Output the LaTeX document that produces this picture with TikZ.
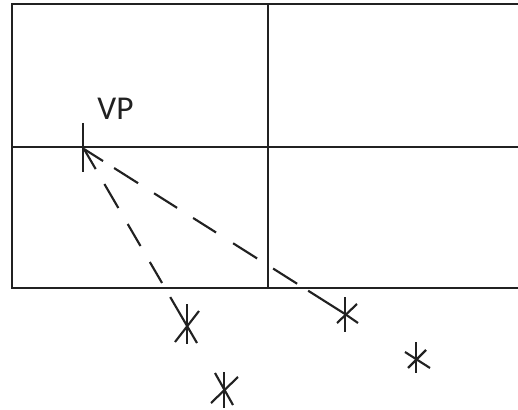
\documentclass[tikz,border=0pt]{standalone}
\usepackage{fontspec}
\setmainfont{Carlito}
\definecolor{ink}{gray}{0.13}
\tikzset{
  grid line/.style={draw=ink,line width=1.7pt},
  star line/.style={draw=ink,line width=1.6pt},
  sight c/.style={star line,dash pattern=on 16.9pt off 9.8pt on 21.3pt off 14.2pt on 20.4pt off 14.2pt on 20.4pt off 15.1pt on 21.3pt off 14.2pt on 21.3pt off 9.8pt on 60pt off 0pt},
  sight a/.style={star line,dash pattern=on 17.4pt off 13pt on 20.8pt off 13.9pt on 19.1pt off 13.9pt on 18.2pt off 12.2pt on 60pt off 0pt},
  label text/.style={inner sep=0pt,text=ink,font=\fontsize{25pt}{25pt}\selectfont}
}
\begin{document}
\begin{tikzpicture}[x=0.75pt,y=-0.75pt]
\useasboundingbox (0,0) rectangle (518,410);
\coordinate (tl) at (12,4);
\coordinate (tr) at (518,4);
\coordinate (bl) at (12,288);
\coordinate (br) at (518,288);
\coordinate (ml) at (12,147);
\coordinate (mr) at (518,147);
\coordinate (mt) at (268,4);
\coordinate (mb) at (268,288);
\coordinate (vp) at (84,149);
\coordinate (sae) at (197,343);
\coordinate (sc) at (345,314);
\draw[grid line] (tr) -- (tl) -- (bl) -- (br);
\draw[grid line] (ml) -- (mr);
\draw[grid line] (mt) -- (mb);
\node[label text,anchor=center] (vplabel) at (115.5,108.5) {VP};
% vanishing point tick
\draw[star line] (83,123) -- (83,172);
% sight lines
\draw[sight c] (vp) -- (sc);
\draw[sight a] (vp) -- (sae);
% star A
\draw[star line] (187,304) -- (187,344);
\draw[star line] (199,311) -- (175,342);
% star B
\draw[star line] (224,372) -- (224,408);
\draw[star line] (238,377) -- (211,403);
\draw[star line] (215,373) -- (233,405);
% star C
\draw[star line] (345,297) -- (345,332);
\draw[star line] (357,304) -- (337,323);
\draw[star line] (345,314) -- (358,323);
% star D
\draw[star line] (416,342) -- (416,373);
\draw[star line] (426,350) -- (408,368);
\draw[star line] (405,352) -- (430,368);
\end{tikzpicture}
\end{document}
